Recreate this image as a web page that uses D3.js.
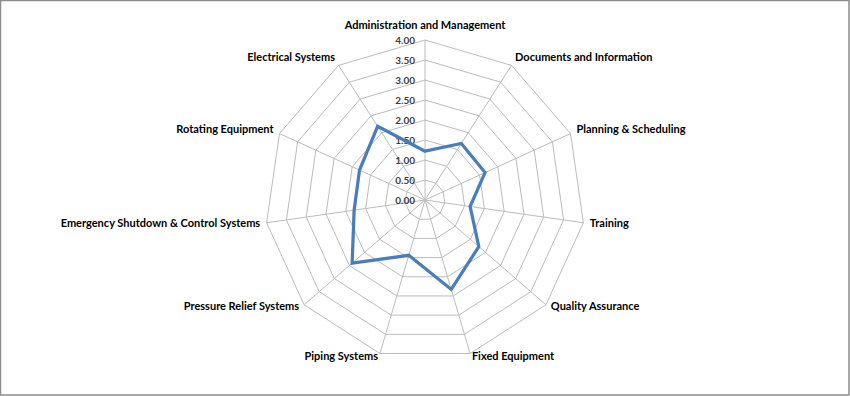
<!DOCTYPE html>
<html>
<head>
<meta charset="utf-8">
<script src="https://cdnjs.cloudflare.com/ajax/libs/d3/7.8.5/d3.min.js"></script>
<style>
  body { margin: 0; background: #fff; }
  svg { display: block; }
  .cat { font-family: Lato, "Open Sans", sans-serif; font-weight: bold; font-size: 11px; fill: #000; }
  .tick { font-family: Lato, "Open Sans", sans-serif; font-weight: bold; font-size: 10px; fill: #404040; }
</style>
</head>
<body>
<div id="chart"></div>
<script>
var categories = ["Administration and Management", "Documents and Information", "Planning & Scheduling",
  "Training", "Quality Assurance", "Fixed Equipment", "Piping Systems", "Pressure Relief Systems",
  "Emergency Shutdown & Control Systems", "Rotating Equipment", "Electrical Systems"];
var scores = [1.22, 1.68, 1.65, 1.14, 1.78, 2.33, 1.44, 2.41, 1.79, 1.80, 2.19];
var tickValues = [0, 0.5, 1, 1.5, 2, 2.5, 3, 3.5, 4];
var tickLabels = ["0.00", "0.50", "1.00", "1.50", "2.00", "2.50", "3.00", "3.50", "4.00"];

var width = 850, height = 396;
var cx = 425, cy = 200;

var svg = d3.select("#chart").append("svg").attr("width", width).attr("height", height);

svg.append("rect").attr("x", 0.5).attr("y", 0.5).attr("width", width - 1.5).attr("height", height - 1.5)
  .attr("fill", "#fff").attr("stroke", "#8c8c8c").attr("stroke-width", 1.5);

var r = d3.scaleLinear().domain([0, 4]).range([0, 160]);
var angle = d3.scaleLinear().domain([0, categories.length]).range([0, 2 * Math.PI]);

var g = svg.append("g").attr("transform", "translate(" + cx + "," + cy + ")");

// rings
var ring = d3.lineRadial().curve(d3.curveLinearClosed);
g.selectAll(".ring").data(tickValues.slice(1)).enter().append("path")
  .attr("class", "ring")
  .attr("d", function(v) { return ring(categories.map(function(c, i) { return [angle(i), r(v)]; })); })
  .attr("fill", "none").attr("stroke", "#bcbcbc").attr("stroke-width", 1);

// spokes
g.selectAll(".spoke").data(categories).enter().append("line")
  .attr("class", "spoke")
  .attr("x1", 0).attr("y1", 0)
  .attr("x2", function(d, i) { return r(4) * Math.sin(angle(i)); })
  .attr("y2", function(d, i) { return -r(4) * Math.cos(angle(i)); })
  .attr("stroke", "#bcbcbc").attr("stroke-width", 1);

// value labels
g.selectAll(".tick").data(tickValues).enter().append("text")
  .attr("class", "tick")
  .attr("x", -10)
  .attr("y", function(v) { return -r(v); })
  .attr("dy", "0.35em")
  .attr("text-anchor", "end")
  .text(function(v, i) { return tickLabels[i]; });

// category labels
g.selectAll(".cat").data(categories).enter().append("text")
  .attr("class", "cat")
  .attr("x", function(d, i) { var s = Math.sin(angle(i)); return (r(4) + 0) * s + s * 6.5; })
  .attr("y", function(d, i) {
    var c = Math.cos(angle(i));
    var y = -r(4) * c;
    if (i === 0) return y - 15;
    return y + (c > 0 ? -(c * 8 + 1.5) : -c * 2.5);
  })
  .attr("dy", "0.35em")
  .attr("text-anchor", function(d, i) {
    var s = Math.sin(angle(i));
    return Math.abs(s) < 0.01 ? "middle" : (s > 0 ? "start" : "end");
  })
  .text(function(d) { return d; });

// series
var line = d3.lineRadial()
  .angle(function(d, i) { return angle(i); })
  .radius(function(d) { return r(d); })
  .curve(d3.curveLinearClosed);

g.append("path").datum(scores)
  .attr("d", line)
  .attr("fill", "none")
  .attr("stroke", "#4a7ebb")
  .attr("stroke-width", 3.25)
  .attr("stroke-linejoin", "miter");
</script>
</body>
</html>
